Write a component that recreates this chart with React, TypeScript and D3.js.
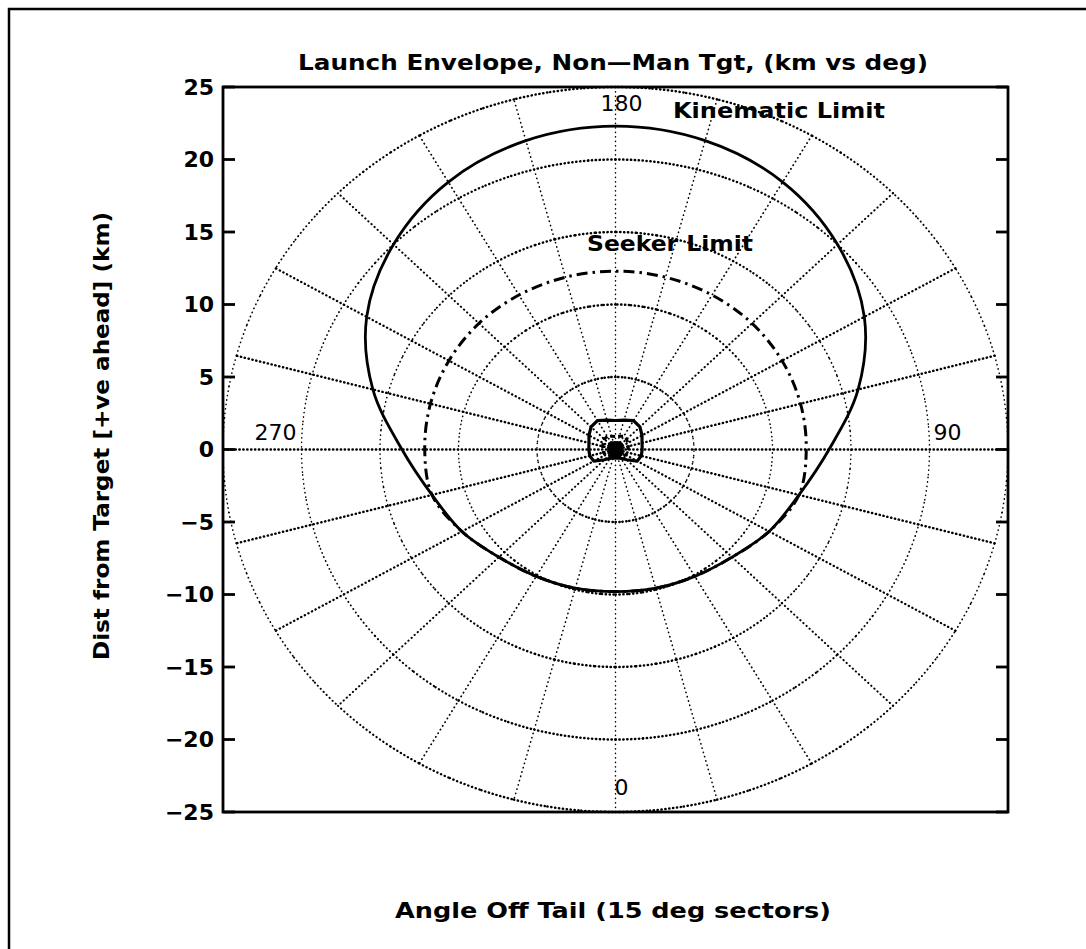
import React from "react";
import * as d3 from "d3";

// ---- data (km, angle in deg off tail, 0..180 step 15; mirrored for 180..360)
const sectorAngles = [0, 15, 30, 45, 60, 75, 90, 105, 120, 135, 150, 165, 180];
const kinematicLimit = [9.8, 9.9, 10.1, 10.5, 11.3, 12.1, 13.6, 16.0, 18.3, 20.0, 21.3, 22.05, 22.3];
const seekerLimit = [9.8, 9.9, 10.1, 10.5, 11.3, 12.1, 12.15, 12.2, 12.25, 12.3, 12.3, 12.3, 12.3];
const minRangeOuter = [0.6, 0.6, 0.7, 1.0, 1.6, 1.7, 1.7, 1.75, 1.95, 2.2, 2.3, 2.1, 2.0];
const minRangeInner = [0.55, 0.55, 0.6, 0.65, 0.75, 0.8, 0.8, 0.85, 0.9, 1.0, 1.05, 0.95, 0.9];
const minRangeCore = [0.5, 0.5, 0.5, 0.5, 0.45, 0.45, 0.45, 0.45, 0.5, 0.55, 0.55, 0.5, 0.5];
const gridRadii = [5, 10, 15, 20, 25];
const spokeAngles = [0, 15, 30, 45, 60, 75, 90, 105, 120, 135, 150, 165];
const yTicks = [25, 20, 15, 10, 5, 0, -5, -10, -15, -20, -25];
const angleLabels = [0, 90, 180, 270];

const titleText = "Launch Envelope, Non\u2014Man Tgt, (km vs deg)";
const xLabelText = "Angle Off Tail (15 deg sectors)";
const yLabelText = "Dist from Target [+ve ahead] (km)";

const FONT = "'DejaVu Sans', 'Liberation Sans', sans-serif";

export default function App() {
  const W = 1086, H = 949;
  const x = d3.scaleLinear().domain([-25, 25]).range([223, 1008]);
  const y = d3.scaleLinear().domain([-25, 25]).range([812, 87]);
  const rad = (deg: number) => (deg * Math.PI) / 180;
  const pt = (deg: number, r: number): [number, number] => [
    x(r * Math.sin(rad(deg))),
    y(-r * Math.cos(rad(deg))),
  ];

  const fullLoop = (vals: number[]) => {
    const pts: [number, number][] = [];
    sectorAngles.forEach((a, i) => pts.push(pt(a, vals[i])));
    for (let i = sectorAngles.length - 2; i >= 1; i--) {
      pts.push(pt(360 - sectorAngles[i], vals[i]));
    }
    return pts;
  };

  const smooth = d3.line().curve(d3.curveCatmullRomClosed.alpha(0.5));
  const poly = d3.line().curve(d3.curveLinearClosed);
  const open = d3.line();

  const cx = x(0), cy = y(0);
  // printer-style dots: lines running horizontally print denser/bolder than vertical ones
  const dotStyle = (horizontalness: number) => {
    const h = horizontalness * horizontalness;
    return {
      stroke: "#000",
      strokeWidth: 1.5 + 1.0 * h,
      strokeDasharray: `0.3 ${(4.2 - 0.6 * h).toFixed(2)}`,
      strokeLinecap: "round" as const,
      fill: "none",
    };
  };

  const circleSegments: { d: string; h: number; key: string }[] = [];
  gridRadii.forEach((r) => {
    const step = 5;
    for (let a = 0; a < 360; a += step) {
      const pts: [number, number][] = [];
      for (let k = 0; k <= 5; k++) pts.push(pt(a + (step * k) / 5, r));
      const mid = rad(a + step / 2);
      circleSegments.push({ d: open(pts) || "", h: Math.abs(Math.cos(mid)), key: `c${r}-${a}` });
    }
  });

  const fmt = (v: number) => (v < 0 ? "\u2212" + Math.abs(v) : String(v));
  const txt = { fontFamily: FONT, fontWeight: "bold" as const, fontSize: 22 };

  return (
    <svg width={W} height={H} style={{ display: "block", position: "absolute", left: 0, top: 0, background: "#fff" }}>
      <rect x={0} y={0} width={W} height={H} fill="#fff" />
      {/* outer page border */}
      <rect x={9} y={9} width={W + 40} height={H + 40} fill="none" stroke="#000" strokeWidth={2.5} />

      {/* polar grid */}
      {circleSegments.map((s) => (
        <path key={s.key} d={s.d} {...dotStyle(s.h)} />
      ))}
      {spokeAngles.map((a) => {
        const [x1, y1] = pt(a, 25);
        const [x2, y2] = pt(a + 180, 25);
        return <line key={"s" + a} x1={x1} y1={y1} x2={x2} y2={y2} {...dotStyle(Math.abs(Math.sin(rad(a))))} />;
      })}

      {/* kinematic limit */}
      <path d={smooth(fullLoop(kinematicLimit)) || ""} fill="none" stroke="#000" strokeWidth={2.8} />
      {/* seeker limit */}
      <path d={smooth(fullLoop(seekerLimit)) || ""} fill="none" stroke="#000" strokeWidth={3} strokeDasharray="11 5 2.5 5" />
      {/* minimum range shapes */}
      <path d={poly(fullLoop(minRangeOuter)) || ""} fill="none" stroke="#000" strokeWidth={3.2} strokeLinejoin="round" />
      <path d={poly(fullLoop(minRangeInner)) || ""} fill="none" stroke="#000" strokeWidth={3} strokeDasharray="5 3" />
      <path d={poly(fullLoop(minRangeCore)) || ""} fill="#000" stroke="#000" strokeWidth={2.5} />

      {/* axes box */}
      <rect x={x(-25)} y={y(25)} width={x(25) - x(-25)} height={y(-25) - y(25)} fill="none" stroke="#000" strokeWidth={2.8} />
      {yTicks.map((t) => (
        <g key={"t" + t}>
          <line x1={x(-25)} x2={x(-25) + 12} y1={y(t)} y2={y(t)} stroke="#000" strokeWidth={2.8} />
          <line x1={x(25)} x2={x(25) - 12} y1={y(t)} y2={y(t)} stroke="#000" strokeWidth={2.8} />
          <text x={x(-25) - 9} y={y(t)} dy="0.36em" textAnchor="end" {...txt}>
            {fmt(t)}
          </text>
        </g>
      ))}

      {/* angle labels */}
      {angleLabels.map((a) => {
        const R = 340;
        const horiz = a === 90 || a === 270;
        const px = cx + Math.sin(rad(a)) * R + (horiz ? (a === 90 ? -8 : 0) : 6);
        const py = cy + Math.cos(rad(a)) * R + (horiz ? -17 : (a === 180 ? -6 : -2));
        return (
          <text key={"a" + a} x={px} y={py} dy="0.36em" textAnchor="middle" {...txt} fontWeight="normal">
            {a}
          </text>
        );
      })}

      {/* curve labels */}
      <text x={673} y={110} dy="0.36em" {...txt} textLength={212} lengthAdjust="spacingAndGlyphs">
        Kinematic Limit
      </text>
      <text x={587} y={243} dy="0.36em" {...txt} textLength={166} lengthAdjust="spacingAndGlyphs">
        Seeker Limit
      </text>

      {/* title and axis labels */}
      <text x={613} y={62} dy="0.36em" textAnchor="middle" {...txt} textLength={630} lengthAdjust="spacingAndGlyphs">
        {titleText}
      </text>
      <text x={613} y={910} dy="0.36em" textAnchor="middle" {...txt} textLength={436} lengthAdjust="spacingAndGlyphs">
        {xLabelText}
      </text>
      <text transform={`translate(101,436) rotate(-90)`} dy="0.36em" textAnchor="middle" {...txt} textLength={448} lengthAdjust="spacingAndGlyphs">
        {yLabelText}
      </text>
    </svg>
  );
}
